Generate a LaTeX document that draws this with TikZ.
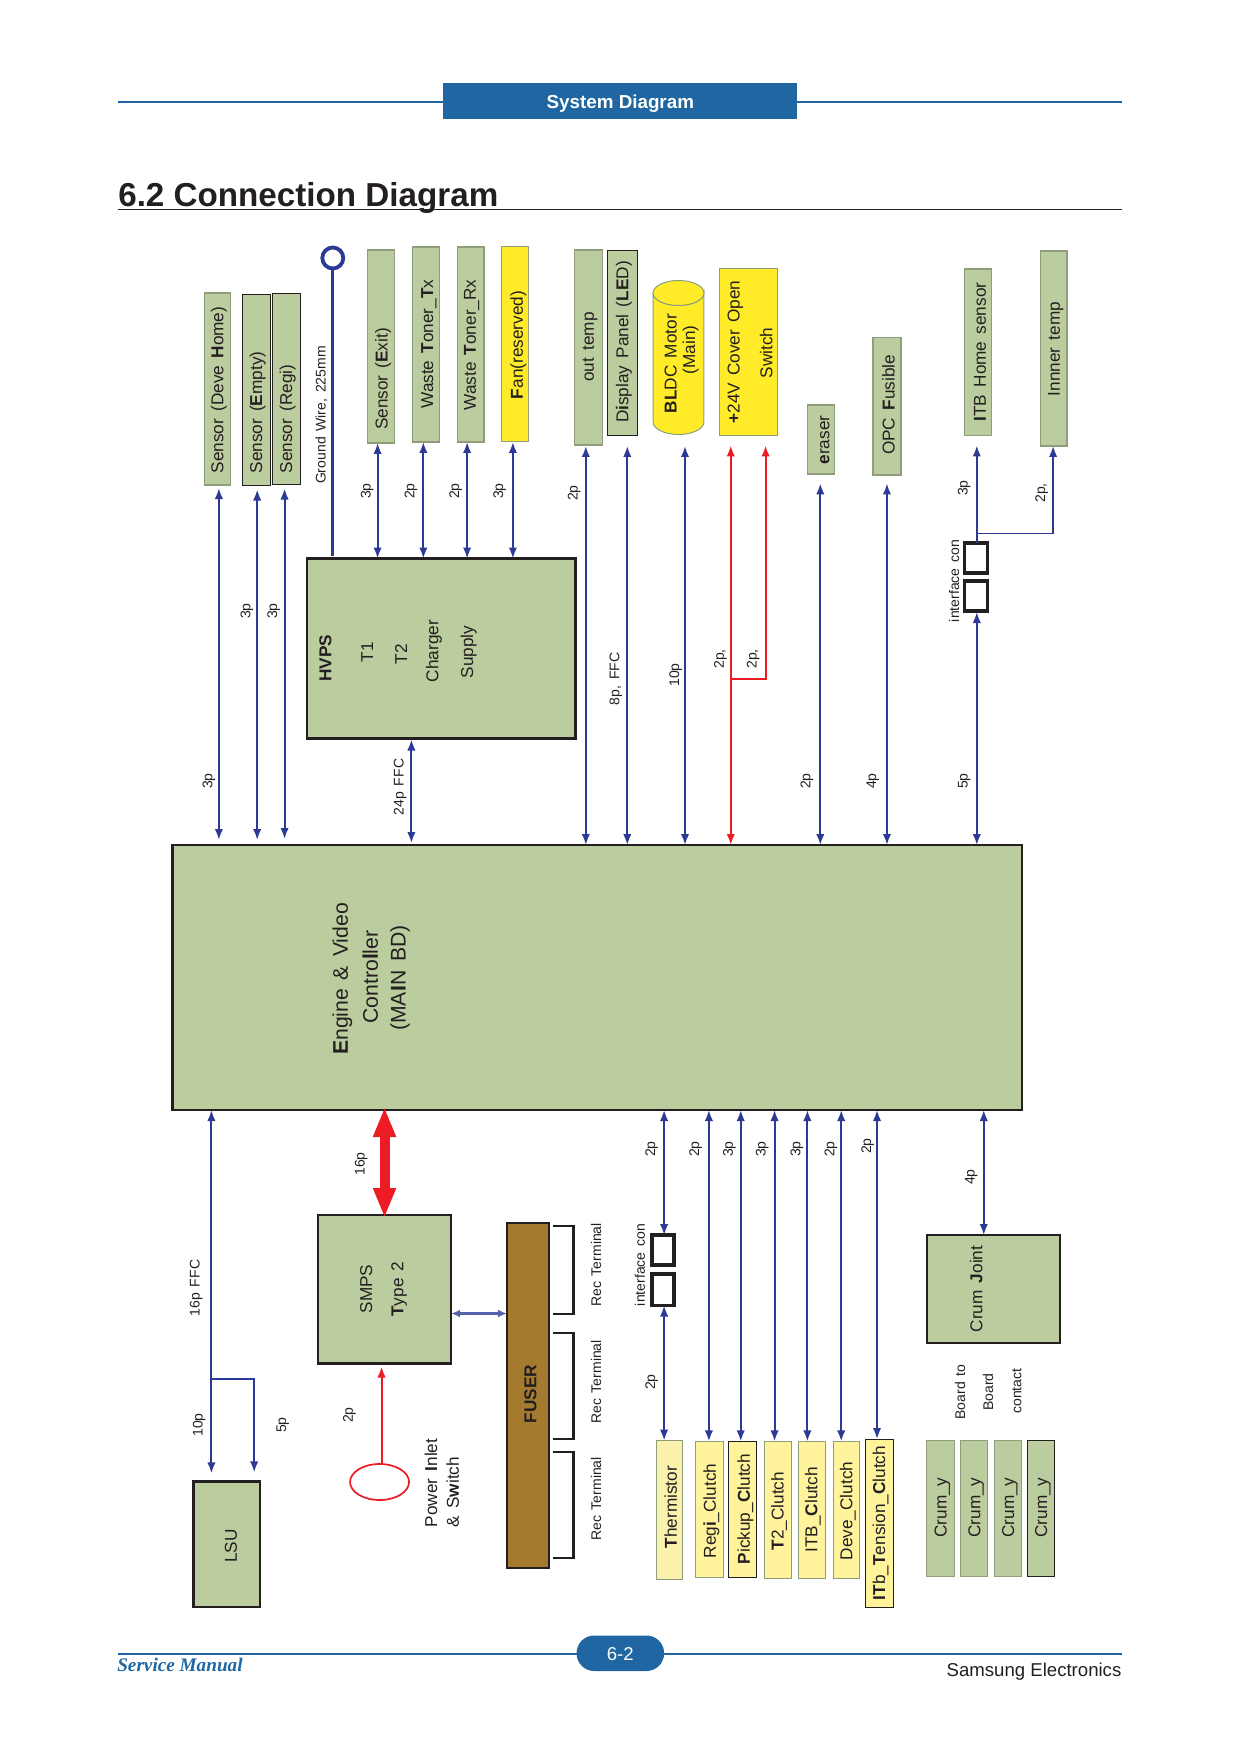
\documentclass[tikz,border=0pt]{standalone}
\usepackage{fontspec}
\usepackage{graphicx}
\setmainfont{Liberation Sans}
\newfontfamily\serifbi{Liberation Serif}
\usetikzlibrary{arrows.meta,shapes.geometric}
\definecolor{hdr}{HTML}{1F66A3}
\definecolor{gr}{HTML}{BBCD9E}
\definecolor{grb}{HTML}{8E9E7C}
\definecolor{blu}{HTML}{2C3A96}
\definecolor{rd}{HTML}{ED1C24}
\definecolor{yl}{HTML}{FFEB28}
\definecolor{ly}{HTML}{FFF39B}
\definecolor{lt}{HTML}{F9F1AC}
\definecolor{fus}{HTML}{A37A2E}
\definecolor{ink}{HTML}{231F20}
\newcount\txncount
\newcommand{\bx}[6]{\pgfmathsetmacro\bxw{(#5-#3)*.49745}\pgfmathsetmacro\bxh{(#6-#4)*.5}%
  \node[#1,minimum width=\bxw pt,minimum height=\bxh pt,inner sep=0pt,outer sep=0pt] (#2) at ({(#3+#5)/2},{(#4+#6)/2}) {};}
\newcommand{\widesp}{\spaceskip=.42em\relax}
\newcommand{\tx}[4][boxtext]{\global\advance\txncount by 1\relax\node[rotate=90,inner sep=0pt,yshift=-.8pt,#1] (txt\number\txncount) at (#2,#3) {\widesp #4};}
\newcommand{\vc}[4][arr]{\draw[#1] (#2,0 |- #3) -- (#2,0 |- #4);}
\tikzset{
  boxtext/.style={text=ink,font=\fontsize{8.6}{10}\selectfont},
  bigtext/.style={text=ink,font=\fontsize{10.6}{12}\selectfont},
  small/.style={text=ink,font=\fontsize{7}{8}\selectfont},
  gbox/.style={draw=grb,line width=.6pt,fill=gr},
  dbox/.style={draw=ink,line width=.4pt,fill=gr},
  tbox/.style={draw=ink,line width=1.2pt,fill=gr},
  ybox/.style={draw=grb,line width=.5pt,fill=yl},
  lbox/.style={draw=grb,line width=.5pt,fill=ly},
  lbd/.style={draw=ink,line width=.35pt,fill=ly},
  ifbox/.style={draw=ink,line width=1.7pt,fill=white},
  arr/.style={draw=blu,line width=.95pt,{Latex[length=5.5pt,width=4.2pt]}-{Latex[length=5.5pt,width=4.2pt]}},
  arrtop/.style={draw=blu,line width=.95pt,{Latex[length=5.5pt,width=4.2pt]}-},
  arrend/.style={draw=blu,line width=.95pt,-{Latex[length=5.5pt,width=4.2pt]}},
  redtop/.style={draw=rd,line width=.95pt,{Latex[length=5.5pt,width=4.2pt]}-},
  redboth/.style={draw=rd,line width=.95pt,{Latex[length=5.5pt,width=4.2pt]}-{Latex[length=5.5pt,width=4.2pt]}},
  brk/.style={draw=ink,line width=1.4pt},
  hline/.style={draw=hdr,line width=1.1pt},
}
\begin{document}
\begin{tikzpicture}[x=0.49745pt,y=-0.5pt]
\useasboundingbox (-0.51,0) rectangle (1245.85,1754);
% header
\coordinate (hl) at (118,102); \coordinate (hr) at (1127,102);
\draw[hline] (hl) -- (hr);
\bx{fill=hdr}{hdrbox}{445}{83}{801}{119}
\node[text=white,font=\fontsize{9.4}{11}\selectfont\bfseries] (hdrtext) at (623,103.5) {System Diagram};
\node[anchor=base west,inner sep=0pt,text=ink,font=\fontsize{16.6}{18}\selectfont\bfseries] (title) at (118,207) {6.2 Connection Diagram};
\coordinate (tl) at (118,209.5); \coordinate (tr) at (1127,209.5);
\draw[ink,line width=.5pt] (tl) -- (tr);
% top boxes
\bx{gbox}{deve}{205}{293}{231}{485}
\bx{dbox}{empty}{243}{294}{271}{485.5}
\bx{dbox}{regi}{273}{293}{301}{484.5}
\bx{gbox}{exit}{369}{250}{396}{443}
\bx{gbox}{wtx}{414}{247}{441}{442}
\bx{gbox}{wrx}{459}{247}{486}{442}
\bx{ybox}{fan}{504}{247}{531}{442}
\bx{gbox}{outt}{577}{250}{605}{445}
\bx{dbox}{disp}{610}{250}{640}{435}
\bx{ybox}{cover}{723}{269}{781}{435.5}
\bx{gbox}{eraser}{811}{405}{838}{474}
\bx{gbox}{opc}{877}{337.5}{905}{475}
\bx{gbox}{itbh}{969}{269}{996}{435.5}
\bx{gbox}{inner}{1045}{251}{1072}{446}
\bx{tbox}{hvps}{308}{558.5}{578}{738.5}
\bx{tbox}{main}{173}{845}{1027}{1110}
% cylinder
\draw[draw=grb,line width=.5pt,fill=yl] (656,293) -- (656,422) arc (180:0:25.5 and 12.5) -- (707,293) arc (0:180:25.5 and 12.5) -- cycle;
\node[ellipse,draw=grb,line width=.5pt,fill=yl,minimum width=25.5pt,minimum height=12.5pt,inner sep=0pt,outer sep=0pt] (bldctop) at (681.5,293) {};
\coordinate (bldcb) at (681.5,434);
% ground
\node[circle,draw=blu,line width=1.9pt,fill=white,minimum size=10.5pt,inner sep=0pt] (gnd) at (334,258) {};
\draw[blu,line width=1.6pt,shorten >=1.5pt] (gnd.south) -- (gnd.south |- hvps.north);
% top connectors
\vc[arr,shorten <=1.5pt,shorten >=2.5pt]{219.5}{deve.south}{main.north}
\vc[arr,shorten <=2pt,shorten >=2.5pt]{258}{empty.south}{main.north}
\vc[arr,shorten <=2pt,shorten >=3pt]{285.5}{regi.south}{main.north}
\vc[arr]{379}{exit.south}{hvps.north}
\vc[arr]{425}{wtx.south}{hvps.north}
\vc[arr]{469}{wrx.south}{hvps.north}
\vc[arr]{515}{fan.south}{hvps.north}
\vc[arr,shorten <=.5pt]{588.3}{outt.south}{main.north}
\vc[arr,shorten <=5.5pt]{630}{disp.south}{main.north}
\vc[arr,shorten <=6pt]{688}{bldcb}{main.north}
\vc[redboth,shorten <=5pt]{734}{cover.south}{main.north}
\coordinate (redj) at (734,679.4);
\draw[redtop,shorten <=5pt] (769,0 |- cover.south) -- (769,0 |- redj) -- (redj);
\vc[arr,shorten <=4.7pt]{824}{eraser.south}{main.north}
\vc[arr,shorten <=4.2pt]{891}{opc.south}{main.north}
\bx{ifbox}{ifa}{969}{543}{992}{573}
\bx{ifbox}{ifb}{969}{581}{992}{611}
\vc[arrtop,shorten <=5pt]{981.3}{itbh.south}{ifa.north}
\coordinate (itbj) at (981.3,533.5);
\draw[arrtop] (1058,0 |- inner.south) -- (1058,0 |- itbj) -- (itbj);
\vc[arr,shorten <=.5pt]{981.3}{ifb.south}{main.north}
\vc[arr,shorten <=.5pt,shorten >=1pt]{413}{hvps.south}{main.north}
% top labels
\tx{218}{390}{Sensor (Deve \textbf{H}ome)}
\tx{257}{412.5}{Sensor (\textbf{E}mpty)}
\tx{287}{419}{Sensor (Regi)}
\tx[small]{321}{415}{Ground Wire, 225mm}
\tx{383}{379}{Sensor (\textbf{E}xit)}
\tx{429}{344}{Waste \textbf{T}oner\_\textbf{T}x}
\tx{472}{345}{Waste \textbf{T}oner\_Rx}
\tx{519}{345}{\textbf{F}an(reserved)}
\tx{591}{347}{out temp}
\tx{625}{342}{D\textbf{i}splay Panel (\textbf{LE}D)}
\tx{672}{363.6}{\textbf{BL}DC Motor}
\tx{692}{350}{(Main)}
\tx{737}{352}{\textbf{+}24V Cover Open}
\tx{768}{353}{Switch}
\tx{827}{440}{\textbf{e}raser}
\tx{891}{405}{OPC \textbf{F}usible}
\tx{983}{352}{\textbf{I}TB Home sensor}
\tx{1059}{349}{Innner temp}
\tx[small]{208}{781}{3p}
\tx[small]{246}{611}{3p}
\tx[small]{273}{611}{3p}
\tx[small]{367}{491}{3p}
\tx[small]{411}{491}{2p}
\tx[small]{456}{491}{2p}
\tx[small]{500}{491}{3p}
\tx[small]{575}{493}{2p}
\tx[small]{617}{679}{8p, FFC}
\tx[small]{677}{675}{10p}
\tx[small]{722}{659}{2p,}
\tx[small]{755}{659}{2p,}
\tx[small]{809}{781}{2p}
\tx[small]{875}{781}{4p}
\tx[small]{967}{781}{5p}
\tx[small]{967}{488}{3p}
\tx[small]{1045}{493}{2p,}
\tx[small]{957}{581}{interface con}
\tx[small]{400}{787}{24p FFC}
\tx{325}{658}{\textbf{HVPS}}
\tx{367}{652}{T1}
\tx{401}{654}{T2}
\tx{434}{651}{Charger}
\tx{469}{652}{Supply}
\tx[bigtext]{342}{979}{\textbf{E}ngine \& Video}
\tx[bigtext]{370}{977}{Contro\textbf{l}ler}
\tx[bigtext]{400}{978}{(MA\textbf{I}N BD)}
% bottom boxes
\bx{tbox}{lsu}{194}{1481.4}{261}{1607}
\bx{tbox}{smps}{319}{1215}{453}{1363.5}
\bx{draw=ink,line width=1.1pt,fill=fus}{fuser}{509}{1222.6}{551}{1568}
\bx{ifbox}{ifc}{655}{1235}{677}{1265}
\bx{ifbox}{ifd}{655}{1274}{677}{1305.5}
\bx{draw=grb,line width=.5pt,fill=lt}{therm}{659}{1440.6}{685}{1579.5}
\bx{lbox}{regic}{699}{1441.4}{727}{1577}
\bx{lbd}{pick}{732}{1441.4}{760}{1577}
\bx{lbox}{t2c}{768}{1441.4}{795}{1578}
\bx{lbox}{itbc}{802}{1441.4}{829}{1578}
\bx{lbox}{devec}{837}{1441.4}{863}{1578}
\bx{lbd}{itbt}{869}{1439}{897}{1607}
\bx{tbox}{crum}{931}{1235}{1065}{1343}
\bx{gbox}{cy1}{931}{1440.6}{959}{1576.5}
\bx{gbox}{cy2}{965}{1440.6}{992}{1576.5}
\bx{gbox}{cy3}{999}{1440.6}{1026}{1576.5}
\bx{dbox}{cy4}{1032}{1440.6}{1059}{1576.5}
\node[ellipse,draw=rd,line width=.85pt,minimum width=29.5pt,minimum height=18pt,inner sep=0pt,outer sep=0pt] (inlet) at (381,1482) {};
% brackets
\draw[brk] (555,1226) -- (576,1226) -- (576,1314) -- (555,1314);
\draw[brk] (555,1333) -- (576,1333) -- (576,1439) -- (555,1439);
\draw[brk] (555,1452) -- (576,1452) -- (576,1558) -- (555,1558);
% bottom connectors
\vc[arr,shorten >=4pt]{212}{main.south}{lsu.north}
\coordinate (lsuj) at (212,1379);
\draw[arrend,shorten >=4.5pt] (lsuj) -- (255,0 |- lsuj) -- (255,0 |- lsu.north);
\draw[draw=rd,line width=5pt,shorten <=-1.5pt,shorten >=-1.5pt,{Triangle[length=15pt,width=10.5pt]}-{Triangle[length=15pt,width=10.5pt]}] (main.south -| smps.north) -- (smps.north);
\draw[arr,draw=blu!80!white,line width=1.3pt,{Latex[length=4.5pt,width=4pt]}-{Latex[length=4.5pt,width=4pt]}] (smps.east |- 0,1313.5) -- (fuser.west |- 0,1313.5);
\vc[redtop,shorten <=1.5pt]{383}{smps.south}{inlet.north}
\vc[arr]{667}{main.south}{ifc.north}
\vc[arr]{667}{ifd.south}{therm.north}
\vc[arr]{712}{main.south}{regic.north}
\vc[arr]{744}{main.south}{pick.north}
\vc[arr]{778}{main.south}{t2c.north}
\vc[arr]{811}{main.south}{itbc.north}
\vc[arr]{845}{main.south}{devec.north}
\vc[arr]{881}{main.south}{itbt.north}
\vc[arr]{988.3}{main.south}{crum.north}
% bottom labels
\tx{230}{1546}{LSU}
\tx{366}{1289}{SMPS}
\tx{399}{1289}{\textbf{T}ype 2}
\tx{531}{1394}{\textbf{FUSER}}
\tx{431}{1483}{Power \textbf{I}nlet}
\tx{453}{1492}{\& S\textbf{w}itch}
\tx{672}{1507}{\textbf{T}hermistor}
\tx{713}{1511}{Reg\textbf{i}\_Clutch}
\tx{747}{1509}{\textbf{P}ickup\_\textbf{C}lutch}
\tx{781}{1511}{\textbf{T}2\_Clutch}
\tx{815}{1510}{ITB\_\textbf{C}lutch}
\tx{850}{1511}{Deve\_Clutch}
\tx{883}{1523}{\textbf{IT}b\_\textbf{T}ension\_\textbf{C}lutch}
\tx{979}{1289}{Crum \textbf{J}oint}
\tx{945}{1507.5}{Crum\_y}
\tx{979}{1507.5}{Crum\_y}
\tx{1013}{1507.5}{Crum\_y}
\tx{1046}{1507.5}{Crum\_y}
\tx[small]{195}{1288}{16p FFC}
\tx[small]{198}{1425}{10p}
\tx[small]{282}{1425}{5p}
\tx[small]{361}{1164}{16p}
\tx[small]{349}{1415}{2p}
\tx[small]{597}{1265}{Rec Terminal}
\tx[small]{597}{1382}{Rec Terminal}
\tx[small]{597}{1499}{Rec Terminal}
\tx[small]{641}{1265}{interface con}
\tx[small]{653}{1149}{2p}
\tx[small]{653}{1382}{2p}
\tx[small]{697}{1149}{2p}
\tx[small]{731}{1149}{3p}
\tx[small]{764}{1149}{3p}
\tx[small]{799}{1149}{3p}
\tx[small]{833}{1149}{2p}
\tx[small]{870}{1146}{2p}
\tx[small]{974}{1177}{4p}
\tx[small]{963}{1392}{Board to}
\tx[small]{991}{1392}{Board}
\tx[small]{1020}{1391}{contact}
% footer
\coordinate (fl) at (118,1654); \coordinate (fr) at (1127,1654);
\draw[hline] (fl) -- (fr);
\bx{fill=hdr,rounded corners=8.8pt}{pill}{579}{1635.5}{667}{1671}
\node[text=white,font=\fontsize{9.3}{11}\selectfont] (pg) at (623,1654) {6-2};
\node[anchor=base west,inner sep=0pt,text=hdr,font=\serifbi\fontsize{9.6}{12}\selectfont\bfseries\itshape] (sm) at (117,1671) {Service Manual};
\node[anchor=base east,inner sep=0pt,text=ink,font=\fontsize{9.3}{12}\selectfont] (se) at (1127,1676) {Samsung Electronics};
\end{tikzpicture}
\end{document}
